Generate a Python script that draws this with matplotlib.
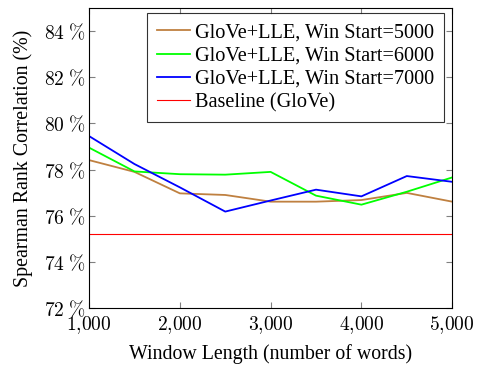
import matplotlib
matplotlib.use("Agg")
import matplotlib.pyplot as plt
from matplotlib.ticker import FuncFormatter

# window length (number of words)
win_len = [1000, 1500, 2000, 2500, 3000, 3500, 4000, 4500, 5000]

# Spearman rank correlation (%)
start_5000 = [78.41, 77.90, 76.97, 76.90, 76.61, 76.61, 76.68, 76.99, 76.61]
start_6000 = [78.95, 77.92, 77.80, 77.78, 77.90, 76.87, 76.48, 77.04, 77.66]
start_7000 = [79.45, 78.24, 77.23, 76.18, 76.66, 77.13, 76.84, 77.72, 77.47]
baseline = 75.22

labels = ["GloVe+LLE, Win Start=5000", "GloVe+LLE, Win Start=6000",
          "GloVe+LLE, Win Start=7000", "Baseline (GloVe)"]
colors = ["#bf8040", "#00ff00", "#0000ff", "#ff0000"]

plt.rcParams['font.family'] = ['Liberation Serif', 'DejaVu Serif']
plt.rcParams['mathtext.fontset'] = 'cm'

fig = plt.figure(figsize=(4.79, 3.65), dpi=100)
ax = fig.add_axes([0.186, 0.156, 0.758, 0.822])

ax.plot(win_len, start_5000, color=colors[0], lw=1.3, label=labels[0])
ax.plot(win_len, start_6000, color=colors[1], lw=1.3, label=labels[1])
ax.plot(win_len, start_7000, color=colors[2], lw=1.3, label=labels[2])
ax.axhline(baseline, color=colors[3], lw=0.8, label=labels[3])

ax.set_xlim(1000, 5000)
ax.set_ylim(72, 85)
ax.set_xticks([1000, 2000, 3000, 4000, 5000])
ax.set_yticks([72, 74, 76, 78, 80, 82, 84])
ax.xaxis.set_major_formatter(FuncFormatter(lambda v, p: "$%d{,}%03d$" % (v // 1000, v % 1000)))
ax.yaxis.set_major_formatter(FuncFormatter(lambda v, p: r"$%d\;\%%$" % v))
ax.tick_params(direction='in', top=True, right=True, length=4, color='#808080', labelsize=14, pad=3)
ax.tick_params(axis='x', pad=4)
for s in ax.spines.values():
    s.set_linewidth(0.8)

ax.set_xlabel("Window Length (number of words)", fontsize=14.3, labelpad=6)
ax.set_ylabel("Spearman Rank Correlation (%)", fontsize=14.3, labelpad=8)

leg = ax.legend(loc='upper right', bbox_to_anchor=(0.978, 0.983), fontsize=14.6,
                frameon=True, fancybox=False, edgecolor='black',
                handlelength=1.6, handletextpad=0.25, borderaxespad=0,
                labelspacing=0.2, borderpad=0.5)
leg.get_frame().set_linewidth(0.8)

fig.savefig("out.png", dpi=100)
